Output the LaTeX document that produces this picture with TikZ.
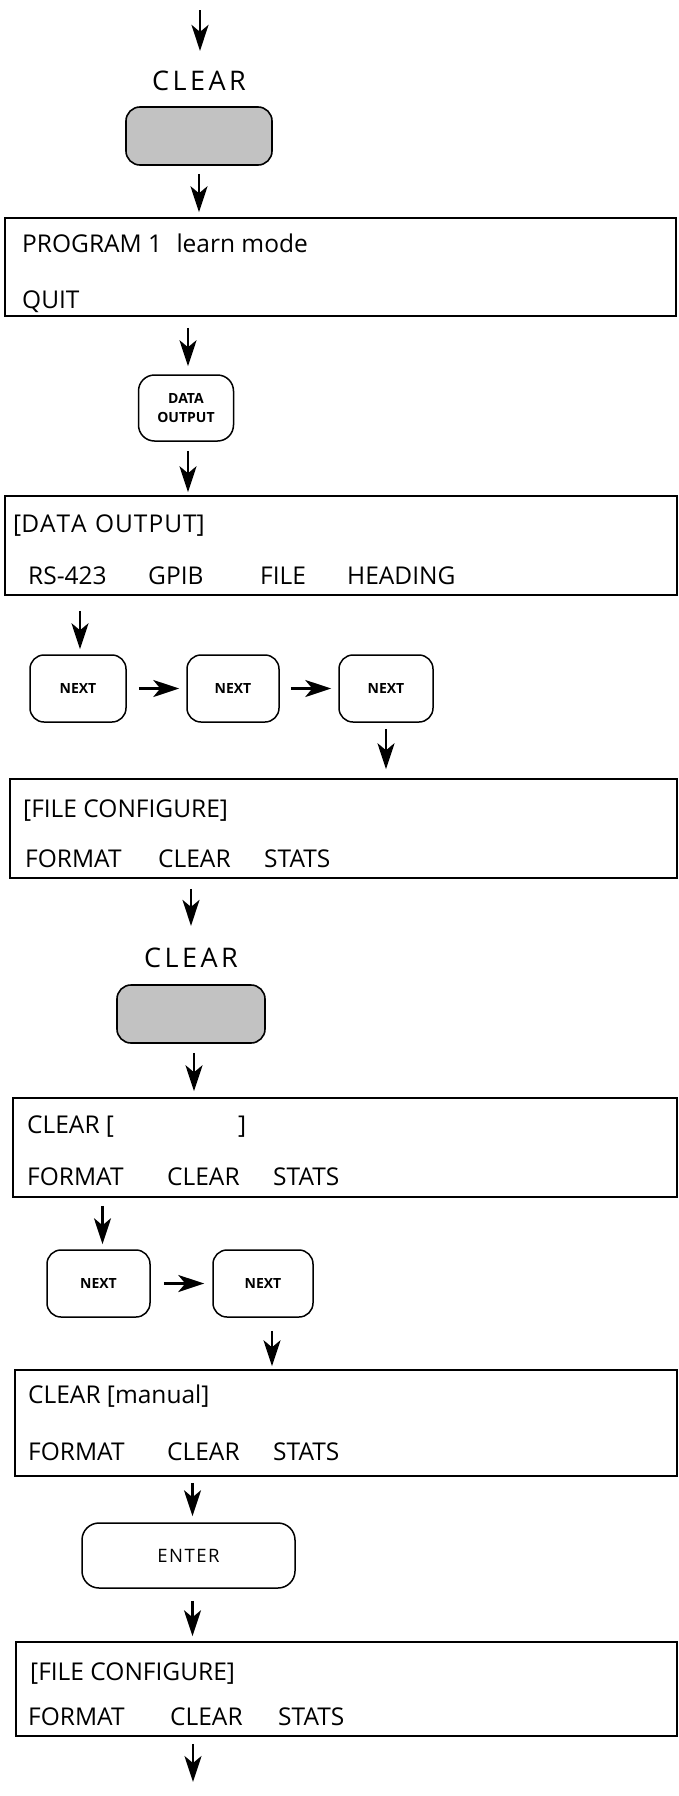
\documentclass[tikz,border=0pt]{standalone}
\usepackage{fontspec}
\setmainfont{Open Sans}
\usetikzlibrary{arrows.meta}
\begin{document}
\begin{tikzpicture}[x=1pt,y=-1pt,
  scr/.style={draw, line width=1.5pt, rectangle, inner sep=0pt},
  keybox/.style={draw, line width=1.5pt, rounded corners=14pt, inner sep=0pt, align=center,
    font=\fontsize{14}{19}\selectfont\bfseries},
  shadekey/.style={draw, line width=1.6pt, rounded corners=14pt, inner sep=0pt, fill=black!24},
  lbl/.style={inner sep=0pt, font=\fontsize{27}{31}\selectfont},
  txt/.style={inner sep=0pt, anchor=base west, font=\fontsize{24.5}{29}\selectfont},
  arr/.style={line width=2.6pt, -{Stealth[length=26pt,width=17pt,inset=7pt]}}]
\useasboundingbox (0,0) rectangle (679,1796);

% ---- top
\coordinate (top) at (200,10);
\node[lbl] (clr1lbl) at (199,81) {C\kern3.5pt L\kern3.5pt E\kern3.5pt A\kern3.5pt R};
\node[shadekey, minimum width=146pt, minimum height=58pt] (clr1key) at (199,136) {};

% ---- box 1
\node[scr, minimum width=671pt, minimum height=98pt] (box1) at (340.5,267) {};
\node[txt] (b1a) at (22,252) {PROGRAM 1\kern8pt\ learn mode};
\node[txt] (b1b) at (22,308) {QUIT};

\node[keybox, minimum width=95pt, minimum height=66pt, rounded corners=16pt] (dokey) at (186,408) {DATA\\OUTPUT};

% ---- box 2
\node[scr, minimum width=672pt, minimum height=99pt] (box2) at (341,545.5) {};
\node[txt] (b2a) at (13,532) {[D\kern1pt A\kern1pt T\kern1pt A\kern2pt\ O\kern1pt U\kern1pt T\kern1pt P\kern1pt U\kern1pt T]};
\node[txt] (b2b) at (28,584) {RS-423};
\node[txt] (b2c) at (148,584) {GPIB};
\node[txt] (b2d) at (260,584) {FILE};
\node[txt] (b2e) at (347,584) {HEADING};

\node[keybox, minimum width=96pt, minimum height=67pt] (nx1) at (78,688.5) {NEXT};
\node[keybox, minimum width=92pt, minimum height=67pt] (nx2) at (233,688.5) {NEXT};
\node[keybox, minimum width=94pt, minimum height=67pt] (nx3) at (386,688.5) {NEXT};

% ---- box 3
\node[scr, minimum width=667pt, minimum height=99pt] (box3) at (343.5,828.5) {};
\node[txt] (b3a) at (23,817) {[FILE CONFIGURE]};
\node[txt] (b3b) at (25,867) {FORMAT};
\node[txt] (b3c) at (158,867) {CLEAR};
\node[txt] (b3d) at (264,867) {STATS};

\node[lbl] (clr2lbl) at (191,958) {C\kern3.5pt L\kern3.5pt E\kern3.5pt A\kern3.5pt R};
\node[shadekey, minimum width=148pt, minimum height=58pt] (clr2key) at (191,1014) {};

% ---- box 4
\node[scr, minimum width=664pt, minimum height=99pt] (box4) at (345,1147.5) {};
\node[txt] (b4a) at (27,1133) {CLEAR [};
\node[txt] (b4b) at (238,1133) {]};
\node[txt] (b4c) at (27,1185) {FORMAT};
\node[txt] (b4d) at (167,1185) {CLEAR};
\node[txt] (b4e) at (273,1185) {STATS};

\node[keybox, minimum width=103pt, minimum height=67pt] (nx4) at (98.5,1283.5) {NEXT};
\node[keybox, minimum width=100pt, minimum height=67pt] (nx5) at (263,1283.5) {NEXT};

% ---- box 5
\node[scr, minimum width=662pt, minimum height=106pt] (box5) at (346,1423) {};
\node[txt] (b5a) at (28,1403) {CLEAR [manual]};
\node[txt] (b5b) at (28,1460) {FORMAT};
\node[txt] (b5c) at (167,1460) {CLEAR};
\node[txt] (b5d) at (273,1460) {STATS};

\node[keybox, minimum width=213pt, minimum height=65pt, rounded corners=17pt,
  font=\fontsize{18.5}{22}\selectfont] (entkey) at (188.5,1555.5) {E\kern1.5pt N\kern1.5pt T\kern1.5pt E\kern1.5pt R};

% ---- box 6
\node[scr, minimum width=661pt, minimum height=94pt] (box6) at (346.5,1689) {};
\node[txt] (b6a) at (30,1680) {[FILE CONFIGURE]};
\node[txt] (b6b) at (28,1725) {FORMAT};
\node[txt] (b6c) at (170,1725) {CLEAR};
\node[txt] (b6d) at (278,1725) {STATS};
\coordinate (bottom) at (193,1782);

% ---- connectors
\draw[arr, shorten >=20pt] (top) -- (top |- clr1lbl.north);
\draw[arr, shorten <=8pt, shorten >=5pt] (clr1key.south) -- (clr1key |- box1.north);
\draw[arr, shorten <=11pt, shorten >=8pt] ([xshift=2pt]dokey |- box1.south) -- ([xshift=2pt]dokey.north);
\draw[arr, shorten <=9pt, shorten >=3pt] ([xshift=2pt]dokey.south) -- ([xshift=2pt]dokey |- box2.north);
\draw[arr, shorten <=15pt, shorten >=5pt] ([xshift=2pt]nx1 |- box2.south) -- ([xshift=2pt]nx1.north);
\draw[arr, shorten <=12pt, shorten >=7pt] (nx1.east) -- (nx2.west);
\draw[arr, shorten <=11pt, shorten >=7pt] (nx2.east) -- (nx3.west);
\draw[arr, shorten <=6pt, shorten >=9pt] (nx3.south) -- (nx3 |- box3.north);
\draw[arr, shorten <=10pt, shorten >=22pt] (clr2lbl |- box3.south) -- (clr2lbl.north);
\draw[arr, shorten <=9pt, shorten >=6pt] ([xshift=3pt]clr2key.south) -- ([xshift=3pt]clr2key |- box4.north);
\draw[arr, shorten <=8pt, shorten >=5pt] ([xshift=4pt]nx4 |- box4.south) -- ([xshift=4pt]nx4.north);
\draw[arr, shorten <=13pt, shorten >=8pt] (nx4.east) -- (nx5.west);
\draw[arr, shorten <=13pt, shorten >=3pt] ([xshift=9pt]nx5.south) -- ([xshift=9pt]nx5 |- box5.north);
\draw[arr, shorten <=6pt, shorten >=6pt] ([xshift=4pt]entkey |- box5.south) -- ([xshift=4pt]entkey.north);
\draw[arr, shorten <=12pt, shorten >=5pt] ([xshift=4pt]entkey.south) -- ([xshift=4pt]entkey |- box6.north);
\draw[arr, shorten <=7pt] (bottom |- box6.south) -- (bottom);
\end{tikzpicture}
\end{document}
